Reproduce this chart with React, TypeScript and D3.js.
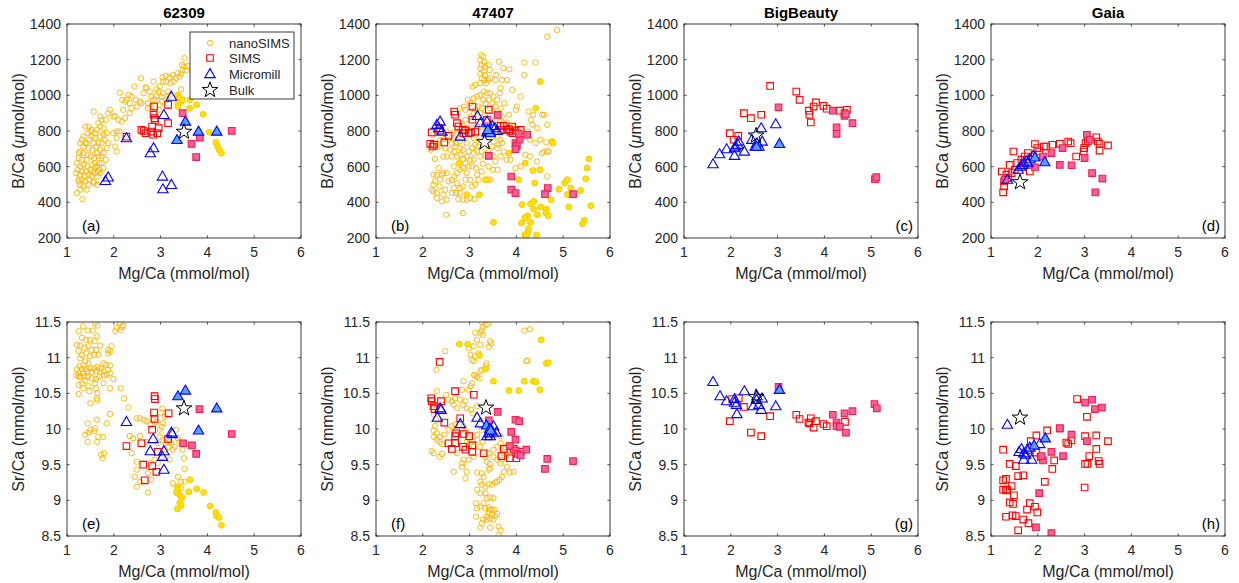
import React from 'react';
import * as d3 from 'd3';

// ---- axes ----
const mgTicks = [1, 2, 3, 4, 5, 6];
const bTicks = [200, 400, 600, 800, 1000, 1200, 1400];
const srTicks = [8.5, 9, 9.5, 10, 10.5, 11, 11.5];
const siteNames = ['62309', '47407', 'BigBeauty', 'Gaia'];
const panelTags = ['(a)', '(b)', '(c)', '(d)', '(e)', '(f)', '(g)', '(h)'];
const legendLabels = ['nanoSIMS', 'SIMS', 'Micromill', 'Bulk'];

type P = [number, number];

// ---- 62309 : B/Ca vs Mg/Ca ----
const a_nanoOpen: P[] = [[3.51,1208],[3.46,1170],[3.47,1142],[3.55,1140],[3.37,1124],[3.26,1114],[3.32,1096],[3.19,1101],[3.11,1109],[3.04,1101],[3.05,1077],[3.12,1077],[3.21,1068],[3.28,1077],[3.4,1105],[3.44,1034],[2.98,1049],[2.91,1034],[2.85,1077],[2.77,1021],[2.7,1040],[2.63,1012],[2.56,965],[2.47,975],[2.38,993],[2.32,1002],[2.44,1049],[2.58,1096],[2.68,1045],[2.8,993],[2.84,975],[2.73,956],[2.89,975],[2.91,993],[2.96,1021],[3.02,993],[3.05,1012],[3.16,1021],[3.19,1002],[3.12,975],[3.03,965],[2.98,947],[2.96,919],[2.8,937],[2.73,928],[2.59,956],[2.49,937],[2.38,928],[2.34,900],[2.27,975],[2.13,1015],[2.2,919],[2.24,872],[2.17,853],[2.12,797],[2.06,760],[2.03,713],[1.99,881],[2.03,884],[1.92,919],[1.88,900],[1.83,862],[1.74,862],[1.57,909],[1.71,825],[1.78,816],[1.85,788],[1.81,751],[1.88,732],[1.85,704],[1.83,639],[1.71,695],[1.78,676],[1.67,658],[1.69,620],[1.64,601],[1.69,583],[1.6,564],[1.65,545],[1.57,517],[1.6,788],[1.64,806],[1.53,769],[1.5,797],[1.44,788],[1.39,825],[1.48,751],[1.57,732],[1.62,713],[1.54,695],[1.46,704],[1.39,732],[1.32,751],[1.35,713],[1.28,685],[1.35,676],[1.44,667],[1.51,658],[1.58,648],[1.42,639],[1.32,639],[1.25,648],[1.21,620],[1.28,601],[1.35,611],[1.44,601],[1.53,611],[1.6,620],[1.5,583],[1.41,573],[1.32,573],[1.23,583],[1.2,564],[1.28,555],[1.37,545],[1.46,555],[1.53,545],[1.48,527],[1.39,517],[1.32,527],[1.25,527],[1.28,499],[1.35,490],[1.28,471],[1.25,517],[1.42,471],[1.33,418],[1.21,452],[1.46,499],[1.57,508],[1.64,499],[1.25,676],[1.28,732],[1.42,732],[1.35,769],[1.46,825],[1.67,844],[1.71,881],[1.53,806],[1.71,769],[1.78,779],[1.6,760],[1.74,732],[1.67,732],[1.64,676],[1.74,658],[1.71,564],[1.66,573],[1.6,592],[1.55,573],[1.78,592],[1.74,620],[2.06,797],[1.99,788],[2.1,862],[2.18,975],[2.24,965],[2.34,956],[3.44,1120],[3.51,1161],[3.58,1164],[2.06,685]];
const a_nanoFill: P[] = [[3.37,1002],[3.4,984],[3.44,965],[3.37,956],[3.47,975],[3.63,975],[3.62,928],[3.77,947],[3.91,894],[4.04,793],[4.18,736],[4.22,713],[4.25,694],[4.3,676],[3.37,937]];
const a_simsOpen: P[] = [[2.27,768],[2.59,806],[2.64,800],[2.68,788],[2.8,797],[2.82,825],[2.84,779],[2.86,937],[2.85,891],[2.87,872],[2.88,862],[2.96,816],[2.93,788],[3.16,947],[3.16,844]];
const a_simsFill: P[] = [[3.47,900],[3.66,728],[3.76,654],[3.84,763],[4.52,801]];
const a_millOpen: P[] = [[2.27,760],[1.82,520],[1.88,540],[2.78,676],[2.85,704],[3.07,890],[3.23,993],[3.04,545],[3.05,474],[3.23,498]];
const a_millFill: P[] = [[3.35,750],[3.53,853],[3.81,797],[4.2,797]];
const a_bulk: P[] = [[3.5,800]];

// ---- 47407 : B/Ca vs Mg/Ca ----
const b_nanoOpen: P[] = [[3.25,1226],[3.29,1217],[3.23,1198],[3.31,1189],[3.26,1170],[3.23,1152],[3.33,1161],[3.41,1170],[3.43,1142],[3.3,1133],[3.23,1120],[3.33,1114],[3.26,1096],[3.31,1086],[3.23,1068],[3.12,1059],[3.07,1049],[3.35,1068],[3.39,1086],[3.44,1096],[3.55,1086],[3.57,1114],[3.63,1189],[3.69,1086],[3.72,1152],[3.85,1146],[3.8,1086],[3.91,1030],[4.09,993],[4.17,1184],[4.41,1184],[4.17,1114],[4.66,1329],[4.87,1366],[4.01,937],[3.99,919],[3.84,891],[3.69,881],[3.66,1040],[3.64,1012],[3.59,975],[3.51,993],[3.44,1012],[3.37,1012],[3.3,1021],[3.23,1002],[3.16,993],[3.09,984],[3.01,956],[2.96,975],[3.29,975],[3.41,975],[3.34,956],[3.48,956],[3.55,937],[3.44,928],[3.26,928],[3.19,937],[3.12,919],[3.23,900],[3.33,891],[3.59,910],[3.66,928],[3.74,956],[2.88,937],[2.91,919],[2.79,928],[4.26,909],[4.36,891],[4.55,891],[4.59,891],[4.66,835],[4.45,816],[4.34,835],[4.31,863],[4.24,797],[4.12,797],[4.16,769],[4.29,751],[4.41,732],[4.51,751],[4.64,736],[4.69,685],[4.66,685],[4.59,685],[4.55,676],[4.66,545],[4.44,629],[4.29,657],[4.19,667],[4.09,601],[3.98,592],[3.87,639],[3.79,639],[3.66,657],[3.73,685],[3.62,723],[3.69,732],[3.66,751],[3.59,704],[3.51,657],[3.55,629],[3.6,583],[3.5,583],[3.41,601],[3.44,527],[3.39,527],[3.26,573],[3.28,616],[3.23,657],[3.16,685],[3.09,676],[3.08,639],[3.01,639],[2.94,657],[2.91,620],[2.86,643],[2.8,667],[2.73,657],[2.67,685],[2.59,695],[2.51,657],[2.44,657],[2.48,704],[2.37,713],[2.3,713],[2.29,732],[2.37,751],[2.46,755],[2.55,751],[2.62,732],[2.69,713],[2.8,704],[2.86,695],[2.98,685],[3.05,704],[3.12,723],[3.19,713],[3.26,685],[3.34,667],[3.41,695],[3.48,713],[3.51,741],[3.59,769],[3.23,769],[3.09,760],[2.94,732],[2.79,741],[2.86,779],[2.73,779],[2.62,788],[2.51,797],[2.23,779],[2.17,695],[2.26,643],[2.23,555],[2.26,517],[2.23,499],[2.19,471],[2.23,461],[2.3,452],[2.3,424],[2.36,489],[2.37,527],[2.41,555],[2.3,555],[2.34,592],[2.44,564],[2.51,564],[2.55,517],[2.48,471],[2.51,415],[2.41,405],[2.44,443],[2.5,330],[2.62,452],[2.66,480],[2.62,527],[2.67,545],[2.73,508],[2.71,452],[2.79,452],[2.76,418],[2.86,415],[2.86,340],[2.8,480],[2.86,489],[2.91,527],[2.94,564],[3.01,527],[3.05,489],[3.12,499],[3.01,424],[2.94,415],[3.1,418],[3.19,527],[2.86,592],[2.8,583],[2.73,564],[2.66,601],[2.62,657],[2.98,601],[3.05,601],[3.14,592],[3.16,555],[2.71,732],[2.66,751],[3.37,806],[3.48,853],[3.55,863],[3.66,853],[3.73,844],[3.8,848],[3.94,825],[4.01,797],[3.26,825],[3.16,825],[3.05,816],[2.94,816],[2.84,835],[2.73,816],[2.91,863],[3.01,881],[3.09,900]];
const b_nanoFill: P[] = [[4.51,1077],[4.41,928],[4.76,741],[4.78,732],[3.84,676],[4.19,620],[4.35,579],[4.5,583],[4.05,527],[4.39,508],[3.34,527],[3.21,443],[2.94,443],[2.78,620],[5.03,508],[5.09,527],[5.16,480],[5.09,443],[4.91,474],[4.74,415],[5.12,374],[5.55,643],[5.48,532],[5.51,592],[5.37,467],[5.59,381],[5.45,299],[5.41,280],[4.12,387],[4.3,392],[4.37,405],[4.37,362],[4.52,374],[4.64,362],[4.63,340],[4.68,325],[4.45,330],[4.24,325],[4.18,312],[4.11,284],[4.3,288],[4.26,250],[4.24,228],[4.18,218],[4.21,206],[4.43,216],[3.51,288]];
const b_simsOpen: P[] = [[2.19,792],[2.16,728],[2.24,723],[2.21,713],[2.46,736],[2.55,773],[2.67,909],[2.69,891],[2.73,844],[2.76,825],[2.85,806],[2.91,803],[2.87,788],[2.98,788],[3.03,792],[3.12,797],[3.06,937],[3.06,863],[3.41,919],[3.37,863],[3.66,829],[3.73,829],[3.68,806],[3.79,806],[3.84,810],[3.91,825],[3.98,803],[4.09,806],[3.87,797],[3.92,788],[2.36,816],[2.37,803]];
const b_simsFill: P[] = [[3.6,890],[3.98,732],[4.01,717],[3.98,698],[4.07,751],[4.05,784],[4.23,779],[3.41,661],[3.89,545],[3.89,471],[3.98,452],[4.67,480],[4.61,446],[5.21,446]];
const b_millOpen: P[] = [[2.3,835],[2.37,853],[2.34,816],[2.41,797],[2.8,769],[3.17,885],[3.23,844],[3.37,853],[3.48,829],[3.54,816],[3.59,801],[3.44,797]];
const b_millFill: P[] = [[3.37,792],[3.44,788],[3.39,806]];
const b_bulk: P[] = [[3.32,741]];

// ---- BigBeauty : B/Ca vs Mg/Ca ----
const c_simsOpen: P[] = [[1.98,788],[2.06,751],[2.16,773],[2.28,900],[2.43,872],[2.65,891],[2.84,1053],[3.4,1021],[3.47,975],[3.67,914],[3.68,891],[3.71,848],[3.77,937],[3.82,960],[3.98,941],[4.05,925],[4.33,914],[4.43,900],[4.48,919]];
const c_simsFill: P[] = [[3.02,933],[4.18,914],[4.26,821],[4.26,784],[4.43,884],[4.46,894],[4.6,844],[5.08,530],[5.11,541]];
const c_millOpen: P[] = [[1.62,614],[1.76,670],[1.91,698],[2.08,704],[2.08,661],[2.17,741],[2.29,685],[2.45,751],[2.6,713],[2.56,732],[2.65,816],[2.67,741],[2.96,838],[2.1,713],[2.15,723],[2.52,713]];
const c_millFill: P[] = [[3.04,728],[2.55,712]];
const c_bulk: P[] = [[2.54,779]];

// ---- Gaia : B/Ca vs Mg/Ca ----
const d_simsOpen: P[] = [[1.26,456],[1.28,489],[1.28,517],[1.37,536],[1.48,685],[1.4,610],[1.44,564],[1.51,583],[1.56,620],[1.65,639],[1.72,657],[1.79,676],[1.89,657],[1.83,573],[1.94,727],[1.99,704],[2.03,685],[2.13,713],[2.18,713],[2.31,723],[2.47,728],[2.65,741],[2.7,732],[2.82,657],[2.98,685],[2.99,704],[3.02,732],[3.07,741],[3.25,765],[3.28,741],[3.32,728],[3.32,690],[3.5,719],[1.33,555],[1.23,573]];
const d_simsFill: P[] = [[1.3,527],[1.94,596],[2.11,657],[2.29,676],[2.47,610],[2.53,704],[2.72,608],[3.0,648],[3.05,779],[3.11,751],[3.16,564],[3.23,456],[3.38,533]];
const d_millOpen: P[] = [[1.35,527],[1.58,583],[1.63,601],[1.67,610],[1.7,620],[1.76,629],[1.83,642],[1.9,661],[1.79,620]];
const d_millFill: P[] = [[1.94,652],[2.15,625]];
const d_bulk: P[] = [[1.62,517]];

// ---- 62309 : Sr/Ca vs Mg/Ca ----
const e_nanoOpen: P[] = [[1.25,11.37],[1.34,11.44],[1.44,11.38],[1.55,11.38],[1.6,11.48],[1.65,11.45],[1.32,11.28],[1.41,11.25],[1.49,11.25],[1.59,11.23],[1.64,11.3],[1.21,11.18],[1.28,11.17],[1.37,11.14],[1.46,11.16],[1.53,11.11],[1.62,11.11],[1.71,11.17],[1.25,11.09],[1.32,11.04],[1.41,11.06],[1.49,11.02],[1.58,11.04],[1.67,11.04],[1.28,10.99],[1.39,10.95],[1.46,10.92],[1.35,10.89],[1.27,10.88],[1.21,10.84],[1.32,10.84],[1.41,10.84],[1.49,10.85],[1.58,10.85],[1.65,10.87],[1.72,10.85],[1.78,10.81],[1.71,10.8],[1.62,10.81],[1.53,10.8],[1.44,10.81],[1.34,10.79],[1.25,10.78],[1.2,10.75],[1.28,10.73],[1.37,10.74],[1.44,10.73],[1.53,10.71],[1.62,10.7],[1.69,10.73],[1.79,10.75],[1.85,10.76],[1.92,10.78],[1.88,10.83],[1.83,10.9],[1.78,10.92],[1.92,10.89],[1.88,11.06],[1.92,11.09],[1.95,11.16],[1.88,11.11],[2.03,11.37],[2.06,11.42],[2.13,11.49],[2.17,11.43],[2.2,11.45],[2.15,11.39],[1.99,10.7],[1.78,10.64],[1.6,10.64],[1.62,10.57],[1.65,10.5],[1.64,10.43],[1.65,10.4],[1.5,10.36],[1.92,10.57],[2.15,10.57],[2.22,10.43],[2.31,10.3],[1.92,10.21],[1.85,10.08],[1.77,9.89],[1.73,9.64],[1.76,9.59],[1.79,9.66],[1.64,10.13],[1.6,10.01],[1.58,9.97],[1.67,9.89],[1.64,9.82],[1.44,10.08],[1.46,9.95],[1.5,9.99],[1.39,9.92],[1.44,9.82],[1.25,10.74],[1.25,10.62],[1.25,10.49],[1.32,10.64],[1.39,10.68],[1.46,10.6],[1.35,10.57],[1.48,10.53],[2.41,9.87],[2.49,10.15],[2.56,10.15],[2.64,10.13],[2.7,10.11],[2.78,10.06],[2.56,9.9],[2.7,9.82],[2.34,9.9],[2.38,9.66],[2.49,9.54],[2.49,9.43],[2.45,9.33],[2.49,9.19],[2.56,9.26],[2.73,9.11],[2.73,9.38],[2.75,9.52],[2.8,9.29],[2.87,9.57],[2.94,9.52],[2.98,9.99],[3.02,10.03],[3.05,10.08],[2.98,9.89],[2.94,9.8],[3.05,9.84],[3.12,9.8],[3.19,9.82],[3.16,9.75],[3.09,9.71],[3.02,9.61],[3.19,9.57],[3.26,9.71],[3.3,9.75],[3.37,9.87],[3.4,9.82],[3.47,9.71],[3.5,9.59],[3.51,9.44],[3.51,9.26],[3.44,9.26],[3.37,9.33],[3.44,9.17],[3.26,9.24],[3.23,9.8],[3.33,9.99],[3.04,10.29],[3.0,10.23],[3.09,10.17],[2.84,10.13],[2.91,10.1]];
const e_nanoFill: P[] = [[3.36,9.19],[3.37,9.15],[3.34,9.11],[3.41,9.07],[3.46,9.04],[3.63,9.29],[3.6,9.12],[3.77,9.16],[3.92,9.11],[3.36,8.88],[3.41,8.97],[3.44,8.93],[4.06,8.92],[4.18,8.83],[4.2,8.78],[4.25,8.76],[4.3,8.65]];
const e_simsOpen: P[] = [[2.27,9.76],[2.59,9.8],[2.63,9.5],[2.66,9.28],[2.82,9.99],[2.82,9.48],[2.87,10.46],[2.88,10.42],[2.86,10.23],[2.87,10.14],[2.91,9.4],[2.94,9.68],[3.16,9.86],[3.17,10.22]];
const e_simsFill: P[] = [[3.48,9.8],[3.67,9.77],[3.76,9.65],[3.83,10.28],[4.52,9.93]];
const e_millOpen: P[] = [[2.27,10.1],[2.84,9.86],[2.78,9.69],[3.07,9.69],[3.04,9.61],[3.07,9.43],[3.23,9.95],[3.25,9.93]];
const e_millFill: P[] = [[3.37,10.46],[3.53,10.54],[3.81,9.98],[4.2,10.29]];
const e_bulk: P[] = [[3.5,10.3]];

// ---- 47407 : Sr/Ca vs Mg/Ca ----
const f_nanoOpen: P[] = [[3.26,11.5],[3.34,11.46],[3.39,11.47],[3.28,11.43],[3.26,11.38],[3.23,11.35],[3.28,11.32],[3.12,11.35],[3.16,11.25],[3.23,11.18],[3.09,11.16],[3.44,11.23],[3.46,11.2],[3.41,11.15],[2.98,11.13],[3.02,11.04],[3.05,10.97],[3.09,10.95],[3.12,11.02],[3.19,11.06],[3.36,10.92],[3.35,10.88],[3.26,10.83],[3.23,10.81],[3.12,10.75],[3.09,10.76],[3.16,10.73],[3.21,10.71],[2.87,10.67],[3.05,10.64],[2.84,10.55],[2.98,10.55],[3.02,10.6],[4.21,10.95],[4.24,10.96],[4.17,11.38],[4.29,11.4],[2.48,11.09],[2.29,10.83],[2.3,10.53],[2.5,10.48],[2.62,10.39],[2.66,10.34],[2.73,10.29],[2.86,10.34],[2.91,10.39],[2.94,10.29],[3.03,10.27],[3.07,10.22],[3.16,10.32],[2.8,10.41],[2.69,10.43],[2.55,10.41],[2.41,10.34],[2.3,10.29],[2.24,10.2],[2.29,10.13],[2.26,10.04],[2.23,9.98],[2.3,9.94],[2.24,9.89],[2.3,9.85],[2.36,9.82],[2.41,9.79],[2.37,9.89],[2.46,9.92],[2.55,9.99],[2.62,10.04],[2.69,10.06],[2.73,9.99],[2.87,10.04],[2.93,9.97],[2.98,9.87],[2.94,9.82],[3.01,9.8],[3.09,9.75],[3.16,9.85],[3.16,9.92],[3.26,9.99],[3.28,9.82],[3.23,9.75],[3.09,9.61],[2.98,9.57],[2.87,9.57],[2.84,9.52],[2.84,9.47],[2.94,9.4],[2.91,9.31],[2.73,9.66],[2.66,9.4],[2.41,9.65],[2.19,9.69],[2.23,9.66],[2.36,9.61],[3.16,9.39],[3.26,9.38],[3.3,9.33],[3.41,9.43],[3.44,9.45],[3.43,9.51],[3.23,9.26],[3.26,9.22],[3.34,9.19],[3.41,9.23],[3.48,9.22],[3.54,9.25],[3.59,9.26],[3.64,9.29],[3.69,9.33],[3.73,9.4],[3.8,9.47],[3.86,9.39],[3.66,9.52],[3.69,9.57],[3.79,9.64],[3.86,9.68],[3.76,9.75],[3.84,9.78],[3.66,9.8],[3.59,9.75],[3.51,9.71],[3.41,9.66],[3.34,9.61],[3.37,9.54],[3.51,9.61],[3.59,9.57],[3.16,9.15],[3.34,9.1],[3.23,9.1],[3.37,9.03],[3.44,9.04],[3.51,9.03],[3.14,8.96],[3.16,8.89],[3.23,8.91],[3.3,8.96],[3.34,8.89],[3.41,8.9],[3.43,8.87],[3.48,8.87],[3.53,8.87],[3.41,8.82],[3.48,8.8],[3.55,8.78],[3.59,8.81],[3.37,8.77],[3.29,8.73],[3.37,8.73],[3.44,8.74],[3.51,8.73],[3.14,8.77],[3.26,8.68],[3.23,8.62],[3.62,8.63],[3.66,8.58],[3.62,8.51],[3.44,8.62],[3.73,9.66],[3.94,9.4],[3.66,9.9]];
const f_nanoFill: P[] = [[2.78,11.19],[2.96,11.19],[3.21,11.03],[3.34,10.84],[3.51,10.67],[3.84,10.54],[4.05,10.54],[4.17,10.67],[4.36,10.67],[4.42,10.66],[4.5,10.55],[4.53,11.25],[4.64,10.92],[4.68,10.93]];
const f_simsOpen: P[] = [[2.18,10.43],[2.19,10.39],[2.23,10.32],[2.25,10.28],[2.39,10.39],[2.46,10.09],[2.36,10.94],[2.55,9.8],[2.62,9.72],[2.69,9.9],[2.71,9.94],[2.69,9.8],[2.8,10.15],[2.87,9.93],[2.86,9.75],[2.91,9.71],[2.99,9.9],[3.06,9.77],[3.06,9.68],[2.69,10.53],[3.09,10.48],[3.3,9.66],[3.41,9.9],[3.68,9.62],[3.73,9.72],[3.86,9.59],[3.94,9.72],[4.0,9.59],[4.09,9.68]];
const f_simsFill: P[] = [[3.41,10.12],[3.6,10.24],[3.98,10.13],[4.06,10.11],[3.89,9.96],[3.98,9.85],[3.86,9.76],[3.98,9.7],[4.03,9.65],[4.09,9.63],[4.21,9.71],[4.66,9.58],[4.61,9.44],[5.21,9.55]];
const f_millOpen: P[] = [[2.31,10.16],[2.37,10.29],[2.39,10.27],[2.8,10.07],[3.16,10.16],[3.23,10.08],[3.37,9.9],[3.41,9.94],[3.51,10.04],[3.57,9.95],[3.44,9.9],[3.48,9.97]];
const f_millFill: P[] = [[3.36,10.05],[3.43,10.0],[3.45,9.98]];
const f_bulk: P[] = [[3.35,10.31]];

// ---- BigBeauty : Sr/Ca vs Mg/Ca ----
const g_simsOpen: P[] = [[1.98,10.11],[2.03,10.42],[2.17,10.43],[2.28,10.31],[2.43,9.95],[2.65,9.9],[2.84,10.18],[3.4,10.2],[3.47,10.14],[3.66,10.09],[3.68,10.08],[3.71,10.15],[3.77,10.02],[3.82,10.11],[3.98,10.07],[4.05,10.04],[4.44,10.1]];
const g_simsFill: P[] = [[3.02,10.59],[4.18,10.2],[4.26,10.09],[4.26,10.04],[4.33,10.03],[4.43,10.22],[4.46,9.95],[4.6,10.25],[5.07,10.35],[5.12,10.29]];
const g_millOpen: P[] = [[1.62,10.66],[1.77,10.46],[1.91,10.39],[2.08,10.42],[2.12,10.34],[2.13,10.21],[2.29,10.53],[2.48,10.32],[2.56,10.46],[2.6,10.34],[2.65,10.27],[2.67,10.43],[2.96,10.32],[2.08,10.37],[2.55,10.41]];
const g_millFill: P[] = [[3.04,10.55]];
const g_bulk: P[] = [[2.54,10.46]];

// ---- Gaia : Sr/Ca vs Mg/Ca ----
const h_simsOpen: P[] = [[1.26,9.71],[1.26,9.28],[1.32,9.3],[1.26,9.15],[1.32,9.14],[1.35,9.15],[1.32,8.77],[1.4,9.51],[1.53,9.48],[1.58,9.34],[1.69,9.35],[1.44,9.2],[1.49,9.07],[1.4,8.97],[1.47,8.95],[1.46,8.79],[1.53,8.78],[1.58,8.58],[1.69,8.73],[1.77,8.87],[1.8,8.68],[1.83,8.96],[1.94,8.91],[1.99,8.83],[1.97,9.91],[1.85,9.83],[1.97,9.67],[2.2,9.98],[2.15,9.26],[2.31,9.44],[2.35,9.56],[2.47,10.01],[2.61,9.81],[2.65,9.79],[2.72,9.84],[2.84,10.42],[3.01,9.9],[3.05,10.17],[3.1,9.62],[3.06,9.51],[3.01,9.51],[3.25,9.91],[3.25,9.72],[3.3,9.55],[3.32,9.51],[3.5,9.83],[3.0,9.18],[2.06,9.61]];
const h_simsFill: P[] = [[2.47,10.01],[2.72,9.92],[1.96,8.62],[2.29,8.54],[2.03,9.1],[2.11,9.56],[2.29,9.68],[2.54,9.62],[3.01,10.37],[3.16,10.41],[3.22,10.28],[3.37,10.3],[3.05,9.83],[2.08,9.62]];
const h_millOpen: P[] = [[1.35,10.06],[1.6,9.68],[1.65,9.72],[1.7,9.66],[1.77,9.71],[1.7,9.57],[1.87,9.57],[1.83,9.74],[2.04,9.79],[1.74,9.64]];
const h_millFill: P[] = [[1.92,9.77],[2.16,9.87]];
const h_bulk: P[] = [[1.62,10.17]];

interface Series {
  nanoOpen: P[]; nanoFill: P[]; simsOpen: P[]; simsFill: P[];
  millOpen: P[]; millFill: P[]; bulk: P[];
}
const none: P[] = [];

const topRow: Series[] = [
  { nanoOpen: a_nanoOpen, nanoFill: a_nanoFill, simsOpen: a_simsOpen, simsFill: a_simsFill, millOpen: a_millOpen, millFill: a_millFill, bulk: a_bulk },
  { nanoOpen: b_nanoOpen, nanoFill: b_nanoFill, simsOpen: b_simsOpen, simsFill: b_simsFill, millOpen: b_millOpen, millFill: b_millFill, bulk: b_bulk },
  { nanoOpen: none, nanoFill: none, simsOpen: c_simsOpen, simsFill: c_simsFill, millOpen: c_millOpen, millFill: c_millFill, bulk: c_bulk },
  { nanoOpen: none, nanoFill: none, simsOpen: d_simsOpen, simsFill: d_simsFill, millOpen: d_millOpen, millFill: d_millFill, bulk: d_bulk },
];
const bottomRow: Series[] = [
  { nanoOpen: e_nanoOpen, nanoFill: e_nanoFill, simsOpen: e_simsOpen, simsFill: e_simsFill, millOpen: e_millOpen, millFill: e_millFill, bulk: e_bulk },
  { nanoOpen: f_nanoOpen, nanoFill: f_nanoFill, simsOpen: f_simsOpen, simsFill: f_simsFill, millOpen: f_millOpen, millFill: f_millFill, bulk: f_bulk },
  { nanoOpen: none, nanoFill: none, simsOpen: g_simsOpen, simsFill: g_simsFill, millOpen: g_millOpen, millFill: g_millFill, bulk: g_bulk },
  { nanoOpen: none, nanoFill: none, simsOpen: h_simsOpen, simsFill: h_simsFill, millOpen: h_millOpen, millFill: h_millFill, bulk: h_bulk },
];

// ---- layout & style ----
const FONT = '"Liberation Sans", Arial, Helvetica, sans-serif';
const INK = '#262626';
const W = 234;
const H = 214;
const colLeft = [67, 376, 684, 991];
const rowTop = [24, 322];
const TICK = 2.6;

const C = {
  nano: '#F7B400',
  nanoFill: '#FFE300', nanoFillEdge: '#F4C600',
  sims: '#FF0000',
  simsFill: '#F5629A', simsFillEdge: '#F0204E',
  mill: '#0000FF',
  millFill: '#58A2F6',
};

const SQ = 6.6;
const squarePath = `M${-SQ / 2},${-SQ / 2}h${SQ}v${SQ}h${-SQ}Z`;
const trianglePath = 'M0,-5.4L5.2,3.6L-5.2,3.6Z';
const starPath = (() => {
  const R = 8.2, r = R * 0.4;
  const pts: string[] = [];
  for (let i = 0; i < 10; i++) {
    const a = -Math.PI / 2 + (i * Math.PI) / 5;
    const rad = i % 2 === 0 ? R : r;
    pts.push(`${(rad * Math.cos(a)).toFixed(2)},${(rad * Math.sin(a) + 0.8).toFixed(2)}`);
  }
  return 'M' + pts.join('L') + 'Z';
})();

function Marks({ pts, x, y, kind, fill, stroke, sw = 1 }:
  { pts: P[]; x: (v: number) => number; y: (v: number) => number; kind: string; fill: string; stroke: string; sw?: number }) {
  return (
    <g>
      {pts.map((p, i) => {
        const cx = x(p[0]);
        const cy = y(p[1]);
        if (kind === 'circle') {
          return <circle key={i} cx={cx} cy={cy} r={fill === 'none' ? 2.7 : 3.0} fill={fill} stroke={stroke} strokeWidth={sw} />;
        }
        const d = kind === 'square' ? squarePath : kind === 'triangle' ? trianglePath : starPath;
        return <path key={i} d={d} transform={`translate(${cx},${cy})`} fill={fill} stroke={stroke} strokeWidth={sw} strokeLinejoin="miter" />;
      })}
    </g>
  );
}

function Panel({ col, row, s }: { col: number; row: number; s: Series }) {
  const left = colLeft[col];
  const top = rowTop[row];
  const x = d3.scaleLinear().domain([1, 6]).range([left, left + W]);
  const y = row === 0
    ? d3.scaleLinear().domain([200, 1400]).range([top + H, top])
    : d3.scaleLinear().domain([8.5, 11.5]).range([top + H, top]);
  const yTicks = row === 0 ? bTicks : srTicks;
  const tag = panelTags[row * 4 + col];
  const tagRight = col >= 2;
  return (
    <g>
      <defs>
        <clipPath id={`clip-${row}-${col}`}>
          <rect x={left} y={top} width={W} height={H} />
        </clipPath>
      </defs>
      <rect x={left} y={top} width={W} height={H} fill="#fff" />
      <g clipPath={`url(#clip-${row}-${col})`}>
        <Marks pts={s.nanoOpen} x={x} y={y} kind="circle" fill="none" stroke={C.nano} sw={0.9} />
        <Marks pts={s.nanoFill} x={x} y={y} kind="circle" fill={C.nanoFill} stroke={C.nanoFillEdge} sw={0.9} />
        <Marks pts={s.simsOpen} x={x} y={y} kind="square" fill="none" stroke={C.sims} sw={1.1} />
        <Marks pts={s.simsFill} x={x} y={y} kind="square" fill={C.simsFill} stroke={C.simsFillEdge} sw={1.1} />
        <Marks pts={s.millOpen} x={x} y={y} kind="triangle" fill="none" stroke={C.mill} sw={1.1} />
        <Marks pts={s.millFill} x={x} y={y} kind="triangle" fill={C.millFill} stroke={C.mill} sw={1.1} />
        <Marks pts={s.bulk} x={x} y={y} kind="star" fill="none" stroke="#000" sw={1} />
      </g>
      {/* ticks on all four sides, pointing inward */}
      {mgTicks.map(t => (
        <g key={`xt${t}`} stroke={INK} strokeWidth={0.8}>
          <line x1={x(t)} x2={x(t)} y1={top + H} y2={top + H - TICK} />
          <line x1={x(t)} x2={x(t)} y1={top} y2={top + TICK} />
        </g>
      ))}
      {yTicks.map(t => (
        <g key={`yt${t}`} stroke={INK} strokeWidth={0.8}>
          <line x1={left} x2={left + TICK} y1={y(t)} y2={y(t)} />
          <line x1={left + W} x2={left + W - TICK} y1={y(t)} y2={y(t)} />
        </g>
      ))}
      <rect x={left} y={top} width={W} height={H} fill="none" stroke={INK} strokeWidth={0.9} />
      {mgTicks.map(t => (
        <text key={`xl${t}`} x={x(t)} y={top + H + 19} textAnchor="middle" fontSize={14} fill={INK} fontFamily={FONT}>{t}</text>
      ))}
      {yTicks.map(t => (
        <text key={`yl${t}`} x={left - 6} y={y(t) + 5} textAnchor="end" fontSize={14} fill={INK} fontFamily={FONT}>{t}</text>
      ))}
      <text x={left + W / 2} y={top + H + 41} textAnchor="middle" fontSize={16} fill={INK} fontFamily={FONT}>Mg/Ca (mmol/mol)</text>
      <text transform={`translate(${left - 43},${top + H / 2}) rotate(-90)`} textAnchor="middle" fontSize={16} fill={INK} fontFamily={FONT}>
        {row === 0
          ? <>B/Ca (<tspan fontStyle="italic">μ</tspan>mol/mol)</>
          : 'Sr/Ca (mmol/mol)'}
      </text>
      <text x={tagRight ? left + W - 5 : left + 15} y={top + H - 7} textAnchor={tagRight ? 'end' : 'start'} fontSize={15} fill="#000" fontFamily={FONT}>{tag}</text>
      {row === 0 && (
        <text x={left + W / 2} y={18} textAnchor="middle" fontSize={15} fontWeight="bold" fill="#000" fontFamily={FONT}>{siteNames[col]}</text>
      )}
    </g>
  );
}

function Legend() {
  const lx = 190, ly = 32, lw = 104, lh = 67;
  const mx = lx + 20, tx = lx + 39;
  const rows = [43, 58, 74, 90];
  return (
    <g>
      <rect x={lx} y={ly} width={lw} height={lh} fill="#fff" stroke={INK} strokeWidth={0.9} />
      <circle cx={mx} cy={rows[0]} r={2.7} fill="none" stroke={C.nano} strokeWidth={0.9} />
      <path d={squarePath} transform={`translate(${mx},${rows[1]})`} fill="none" stroke={C.sims} strokeWidth={1.1} />
      <path d={trianglePath} transform={`translate(${mx},${rows[2]})`} fill="none" stroke={C.mill} strokeWidth={1.1} />
      <path d={starPath} transform={`translate(${mx},${rows[3] - 0.8})`} fill="none" stroke="#000" strokeWidth={1} />
      {legendLabels.map((l, i) => (
        <text key={l} x={tx} y={rows[i] + 4.5} fontSize={13} fill={INK} fontFamily={FONT}>{l}</text>
      ))}
    </g>
  );
}

export default function App() {
  return (
    <svg width={1239} height={583} viewBox="0 0 1239 583" style={{ position: 'absolute', left: 0, top: 0, background: '#fff' }}>
      <rect x={0} y={0} width={1239} height={583} fill="#fff" />
      {topRow.map((s, i) => <Panel key={`t${i}`} col={i} row={0} s={s} />)}
      {bottomRow.map((s, i) => <Panel key={`b${i}`} col={i} row={1} s={s} />)}
      <Legend />
    </svg>
  );
}
